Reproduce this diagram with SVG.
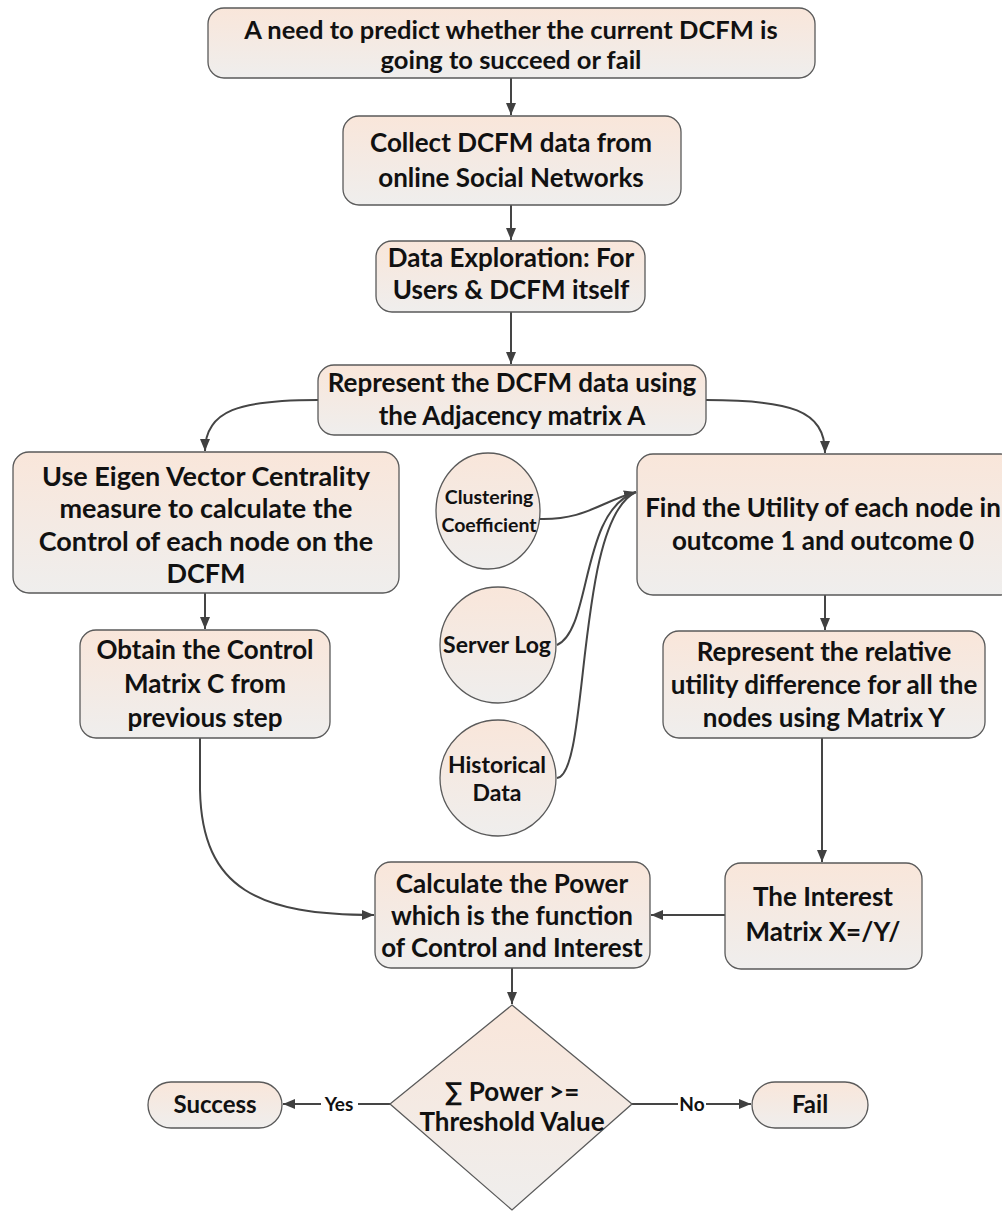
<svg xmlns="http://www.w3.org/2000/svg" width="1002" height="1216" viewBox="0 0 1002 1216">
<style>
.box{fill:url(#g);stroke:#5a5a5a;stroke-width:1.3}
.t{font-family:Lato,"Liberation Sans",sans-serif;font-weight:bold;font-size:26px;fill:#111;text-anchor:middle}
.s{font-size:19.5px}
.m{font-size:23px}
.l{font-family:Lato,"Liberation Sans",sans-serif;font-weight:bold;font-size:19px;fill:#111;text-anchor:middle}
.c{fill:none;stroke:#454545;stroke-width:2}
</style>
<defs>
<linearGradient id="g" x1="0" y1="0" x2="0" y2="1">
<stop offset="0" stop-color="#f9e6da"/>
<stop offset="1" stop-color="#efeeed"/>
</linearGradient>
<marker id="a" viewBox="0 0 12 10" refX="12" refY="5" markerWidth="12" markerHeight="10" markerUnits="userSpaceOnUse" orient="auto">
<path d="M0,0 L12,5 L0,10 z" fill="#404040"/>
</marker>
</defs>
<rect width="1002" height="1216" fill="#fff"/>
<g id="connectors">
<path class="c" d="M511,78 L511,115" marker-end="url(#a)"/>
<path class="c" d="M511,205 L511,240" marker-end="url(#a)"/>
<path class="c" d="M511,312 L511,364" marker-end="url(#a)"/>
<path class="c" d="M318,400 C240,400 205,410 205,451" marker-end="url(#a)"/>
<path class="c" d="M706,400 C790,400 825,410 825,453" marker-end="url(#a)"/>
<path class="c" d="M205,593 L205,629" marker-end="url(#a)"/>
<path class="c" d="M825,595 L825,630" marker-end="url(#a)"/>
<path class="c" d="M540,519 C585,520 600,502 636,492" marker-end="url(#a)"/>
<path class="c" d="M557,645 C592,630 580,510 636,492"/>
<path class="c" d="M557,778 C590,775 575,520 636,492"/>
<path class="c" d="M822,738 L822,862" marker-end="url(#a)"/>
<path class="c" d="M200,738 L200,790 C202,890 260,915 374,915" marker-end="url(#a)"/>
<path class="c" d="M725,915 L651,915" marker-end="url(#a)"/>
<path class="c" d="M512,968 L512,1004" marker-end="url(#a)"/>
<path class="c" d="M390,1104 L358,1104"/>
<path class="c" d="M321,1104 L283,1104" marker-end="url(#a)"/>
<path class="c" d="M632,1104 L678,1104"/>
<path class="c" d="M706,1104 L751,1104" marker-end="url(#a)"/>
<text class="l" x="339" y="1111">Yes</text>
<text class="l" x="692" y="1111">No</text>
</g>
<g id="n1"><rect class="box" x="208" y="8" width="607" height="70" rx="16"/>
<text class="t" x="511" y="39" style="font-size:25.5px">A need to predict whether the current DCFM is</text>
<text class="t" x="511" y="69" style="font-size:25.5px">going to succeed or fail</text></g>
<g id="n2"><rect class="box" x="343" y="116" width="338" height="89" rx="16"/>
<text class="t" x="511" y="152">Collect DCFM data from</text>
<text class="t" x="511" y="187">online Social Networks</text></g>
<g id="n3"><rect class="box" x="376" y="241" width="269" height="71" rx="16"/>
<text class="t" x="511" y="267">Data Exploration: For</text>
<text class="t" x="511" y="299">Users &amp; DCFM itself</text></g>
<g id="n4"><rect class="box" x="318" y="365" width="388" height="70" rx="16"/>
<text class="t" x="512" y="392">Represent the DCFM data using</text>
<text class="t" x="512" y="425">the Adjacency matrix A</text></g>
<g id="n5"><rect class="box" x="13" y="452" width="386" height="141" rx="16"/>
<text class="t" x="206" y="486" style="font-size:27px">Use Eigen Vector Centrality</text>
<text class="t" x="206" y="518" style="font-size:27px">measure to calculate the</text>
<text class="t" x="206" y="551" style="font-size:27px">Control of each node on the</text>
<text class="t" x="206" y="583" style="font-size:27px">DCFM</text></g>
<g id="n6"><rect class="box" x="80" y="630" width="250" height="108" rx="16"/>
<text class="t" x="205" y="659">Obtain the Control</text>
<text class="t" x="205" y="693">Matrix C from</text>
<text class="t" x="205" y="727">previous step</text></g>
<g id="c1"><ellipse class="box" cx="488" cy="511" rx="52" ry="58"/>
<text class="t s" x="489" y="504">Clustering</text>
<text class="t s" x="489" y="532">Coefficient</text></g>
<g id="c2"><circle class="box" cx="498" cy="645" r="58"/>
<text class="t m" x="497" y="653">Server Log</text></g>
<g id="c3"><circle class="box" cx="498" cy="778" r="58"/>
<text class="t m" x="497" y="773">Historical</text>
<text class="t m" x="497" y="801">Data</text></g>
<g id="n7"><rect class="box" x="637" y="454" width="380" height="141" rx="16"/>
<text class="t" x="823" y="517">Find the Utility of each node in</text>
<text class="t" x="823" y="550">outcome 1 and outcome 0</text></g>
<g id="n8"><rect class="box" x="663" y="631" width="322" height="107" rx="16"/>
<text class="t" x="824" y="661">Represent the relative</text>
<text class="t" x="824" y="694">utility difference for all the</text>
<text class="t" x="824" y="727">nodes using Matrix Y</text></g>
<g id="n9"><rect class="box" x="725" y="863" width="197" height="106" rx="16"/>
<text class="t" x="823" y="906">The Interest</text>
<text class="t" x="823" y="941">Matrix X=/Y/</text></g>
<g id="n10"><rect class="box" x="375" y="862" width="275" height="106" rx="16"/>
<text class="t" x="512" y="893">Calculate the Power</text>
<text class="t" x="512" y="925">which is the function</text>
<text class="t" x="512" y="957">of Control and Interest</text></g>
<g id="d1"><path class="box" d="M512,1005 L632,1104 L512,1210 L390,1104 Z"/>
<text class="t" x="512" y="1101">∑ Power &gt;=</text>
<text class="t" x="512" y="1131">Threshold Value</text></g>
<g id="n11"><rect class="box" x="148" y="1082" width="134" height="46" rx="23"/>
<text class="t" x="215" y="1113" style="font-size:24px">Success</text></g>
<g id="n12"><rect class="box" x="752" y="1082" width="116" height="46" rx="23"/>
<text class="t" x="810" y="1113" style="font-size:24px">Fail</text></g>
</svg>
